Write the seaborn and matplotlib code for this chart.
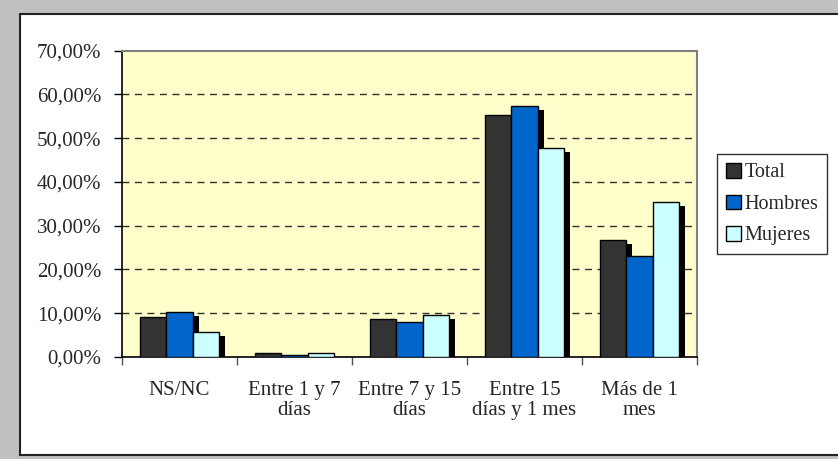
#!/usr/bin/env python3
# Excel-style grouped bar chart: Total / Hombres / Mujeres by duration category.

import pandas as pd
import seaborn as sns
import matplotlib.pyplot as plt
import matplotlib.transforms as mtransforms
from matplotlib.patches import Rectangle
from matplotlib.ticker import FuncFormatter, FixedLocator

CATEGORIES = ["NS/NC", "Entre 1 y 7\ndías", "Entre 7 y 15\ndías",
              "Entre 15\ndías y 1 mes", "Más de 1\nmes"]
SERIES = ["Total", "Hombres", "Mujeres"]
TOTAL   = [0.091, 0.010, 0.087, 0.552, 0.267]
HOMBRES = [0.103, 0.005, 0.081, 0.574, 0.231]
MUJERES = [0.057, 0.009, 0.095, 0.478, 0.353]
PALETTE = ["#333333", "#0066CC", "#CCFFFF"]

W, H = 838, 459


def main():
    df = pd.DataFrame({
        "cat": CATEGORIES * 3,
        "serie": [s for s in SERIES for _ in CATEGORIES],
        "val": TOTAL + HOMBRES + MUJERES,
    })

    sns.set_theme(style="white")
    plt.rcParams["font.family"] = ["Liberation Serif", "DejaVu Serif"]

    fig = plt.figure(figsize=(W / 100, H / 100), dpi=100)
    fig.patch.set_facecolor("#C0C0C0")
    # white chart area with black frame
    fig.patches.append(Rectangle((20 / W, 1 - 455 / H), 1.0, (455 - 14) / H,
                                 transform=fig.transFigure, facecolor="white",
                                 edgecolor="#222222", linewidth=1.5, zorder=-5))

    ax = fig.add_axes([122 / W, 1 - 357 / H, (697 - 122) / W, (357 - 50.5) / H])
    ax.set_zorder(2)
    ax.set_facecolor("#FFFFCC")

    sns.barplot(data=df, x="cat", y="val", hue="serie", hue_order=SERIES,
                order=CATEGORIES, palette=PALETTE, width=0.68, saturation=1,
                edgecolor="black", linewidth=1.0, errorbar=None, ax=ax, zorder=3)

    # drop shadows, offset right/down
    shadow_tr = mtransforms.offset_copy(ax.transData, fig=fig, x=6, y=-4, units="dots")
    for p in list(ax.patches):
        if p.get_height() <= 0:
            continue
        sh = Rectangle((p.get_x(), p.get_y()), p.get_width(), p.get_height(),
                       transform=shadow_tr, facecolor="black", edgecolor="none",
                       zorder=2)
        sh.set_clip_path(ax.patch)
        ax.add_patch(sh)

    ax.set_ylim(0, 0.7)
    ax.set_xlim(-0.5, 4.5)
    ax.yaxis.set_major_locator(FixedLocator([i / 10 for i in range(8)]))
    ax.yaxis.set_major_formatter(FuncFormatter(lambda v, _: f"{v * 100:.2f}%".replace(".", ",")))
    for yv in [i / 10 for i in range(1, 7)]:
        ax.axhline(yv, color="#303030", linestyle=(0, (5, 4)), linewidth=1.0, zorder=1)

    ax.set_xlabel("")
    ax.set_ylabel("")
    ax.xaxis.set_minor_locator(FixedLocator([i - 0.5 for i in range(6)]))
    ax.tick_params(axis="x", which="major", length=0, pad=17, labelsize=15)
    ax.tick_params(axis="x", which="minor", length=6, color="#555555", width=1, direction="out")
    ax.tick_params(axis="y", which="major", length=6, width=1, color="black",
                   direction="out", pad=9, labelsize=15)
    ax.tick_params(left=True, bottom=True, which="both")
    for lbl in ax.get_xticklabels():
        lbl.set_linespacing(1.1)
        lbl.set_verticalalignment("top")

    for side in ("top", "right"):
        ax.spines[side].set_color("#808080")
        ax.spines[side].set_linewidth(1.5)
    for side in ("left", "bottom"):
        ax.spines[side].set_color("black")
        ax.spines[side].set_linewidth(1.2)

    h, l = ax.get_legend_handles_labels()
    leg = ax.legend(h, l, loc="upper left", bbox_to_anchor=(717 / W, 1 - 154 / H),
                    bbox_transform=fig.transFigure, borderaxespad=0, frameon=True,
                    fancybox=False, fontsize=14.5, handlelength=0.75, handleheight=0.75,
                    handletextpad=0.15, labelspacing=0.6, borderpad=0.45)
    leg.get_frame().set_edgecolor("black")
    leg.get_frame().set_linewidth(1.0)
    leg.set_title(None)

    fig.savefig("out.png", dpi=100, facecolor=fig.get_facecolor())


if __name__ == "__main__":
    main()
